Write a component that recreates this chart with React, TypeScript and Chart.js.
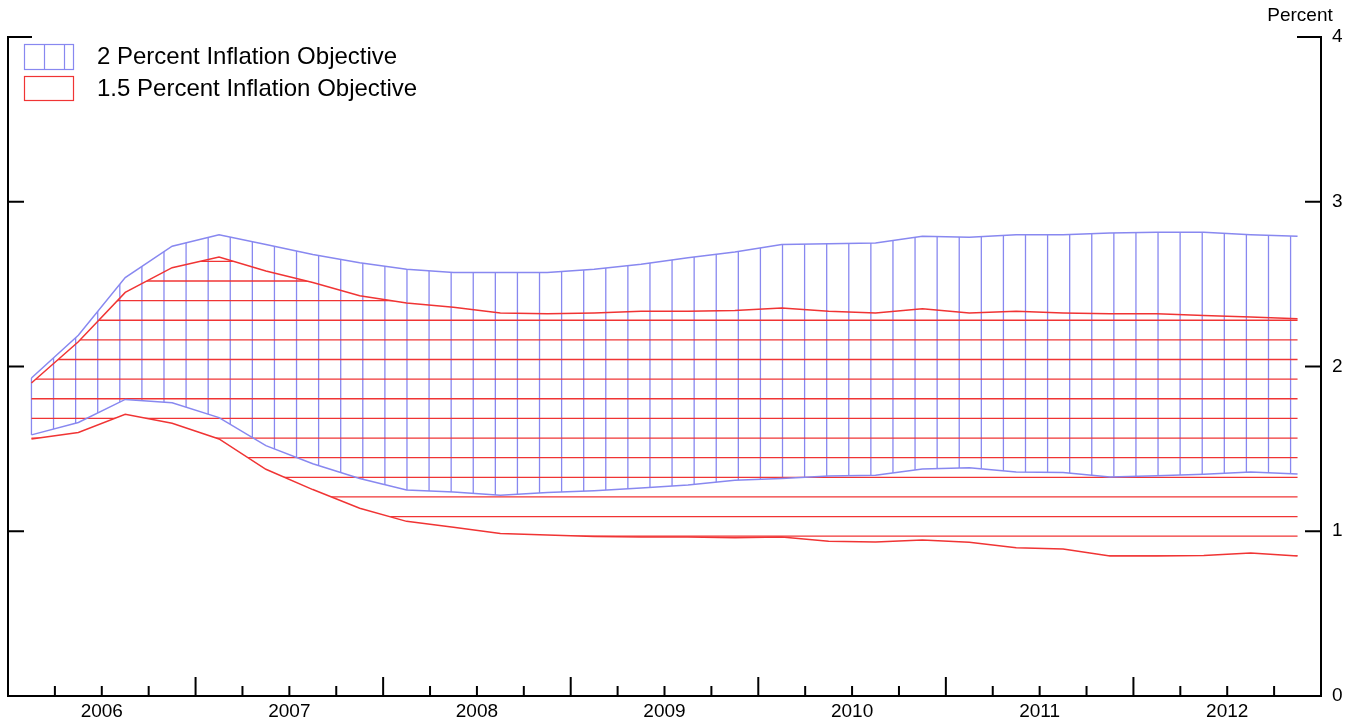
import React, { useEffect, useRef } from 'react';
import { Chart, registerables } from 'chart.js';

Chart.register(...registerables);

// ---- Data ----
const yearLabels = ['2006', '2007', '2008', '2009', '2010', '2011', '2012'];
const quartersPerYear = ['Q1', 'Q2', 'Q3', 'Q4'];
const quarterLabels = yearLabels.flatMap((y) => quartersPerYear.map((q) => `${y}${q}`));

const seriesNames = ['2 Percent Inflation Objective', '1.5 Percent Inflation Objective'];

// 2 percent objective band (upper / lower bound)
const twoPctUpper = [1.93, 2.19, 2.54, 2.73, 2.8, 2.74, 2.68, 2.63, 2.59, 2.57, 2.57, 2.57, 2.59, 2.62, 2.66, 2.695, 2.74, 2.745, 2.75, 2.79, 2.785, 2.8, 2.8, 2.81, 2.815, 2.815, 2.8, 2.79];
const twoPctLower = [1.585, 1.66, 1.8, 1.78, 1.69, 1.52, 1.41, 1.32, 1.25, 1.238, 1.218, 1.235, 1.246, 1.263, 1.28, 1.31, 1.32, 1.335, 1.34, 1.378, 1.386, 1.36, 1.357, 1.33, 1.337, 1.346, 1.36, 1.347];

// 1.5 percent objective band (upper / lower bound)
const onePtFiveUpper = [1.9, 2.15, 2.45, 2.6, 2.665, 2.58, 2.51, 2.43, 2.385, 2.36, 2.325, 2.32, 2.325, 2.335, 2.335, 2.34, 2.355, 2.335, 2.325, 2.35, 2.325, 2.335, 2.325, 2.32, 2.32, 2.31, 2.3, 2.29];
const onePtFiveLower = [1.56, 1.6, 1.71, 1.655, 1.56, 1.376, 1.253, 1.14, 1.06, 1.025, 0.987, 0.977, 0.968, 0.965, 0.965, 0.96, 0.965, 0.94, 0.935, 0.947, 0.933, 0.9, 0.892, 0.85, 0.85, 0.853, 0.868, 0.85];

const yTicks = [0, 1, 2, 3, 4];

// ---- Styles ----
const BLUE = 'rgb(136,136,240)';
const RED = 'rgb(240,52,52)';
const FONT = '"Liberation Sans", Arial, Helvetica, sans-serif';

const toPoints = (arr: number[]) => arr.map((v, i) => ({ x: i, y: v }));

function interpY(points: any[], x: number): number | null {
  for (let j = 0; j < points.length - 1; j++) {
    const a = points[j];
    const b = points[j + 1];
    if (x >= a.x - 0.01 && x <= b.x + 0.01) {
      const t = (x - a.x) / (b.x - a.x);
      return a.y + t * (b.y - a.y);
    }
  }
  return null;
}

const customPlugin = {
  id: 'customDraw',
  beforeDatasetsDraw(chart: any) {
    const ctx = chart.ctx;
    const area = chart.chartArea;
    const yScale = chart.scales.y;
    // Blue band: vertical hatching
    const up = chart.getDatasetMeta(0).data.map((p: any) => ({ x: p.x, y: p.y }));
    const lo = chart.getDatasetMeta(1).data.map((p: any) => ({ x: p.x, y: p.y }));
    ctx.save();
    ctx.strokeStyle = BLUE;
    ctx.lineWidth = 1.3;
    const step = 22.09;
    const lastX = up[up.length - 1].x;
    for (let x = up[0].x; x <= lastX + 0.01; x += step) {
      const y1 = interpY(up, x);
      const y2 = interpY(lo, x);
      if (y1 == null || y2 == null) continue;
      ctx.beginPath();
      ctx.moveTo(x, y1);
      ctx.lineTo(x, y2);
      ctx.stroke();
    }
    ctx.restore();

    // Red band: horizontal hatching (clipped)
    const rup = chart.getDatasetMeta(2).data.map((p: any) => ({ x: p.x, y: p.y }));
    const rlo = chart.getDatasetMeta(3).data.map((p: any) => ({ x: p.x, y: p.y }));
    ctx.save();
    ctx.beginPath();
    ctx.moveTo(rup[0].x, rup[0].y);
    for (let i = 1; i < rup.length; i++) ctx.lineTo(rup[i].x, rup[i].y);
    for (let i = rlo.length - 1; i >= 0; i--) ctx.lineTo(rlo[i].x, rlo[i].y);
    ctx.closePath();
    ctx.clip();
    ctx.strokeStyle = RED;
    ctx.lineWidth = 1.3;
    const hStep = 19.63;
    const anchor = yScale.getPixelForValue(2.519);
    let start = anchor;
    while (start - hStep > area.top) start -= hStep;
    for (let y = start; y <= area.bottom; y += hStep) {
      ctx.beginPath();
      ctx.moveTo(area.left, y);
      ctx.lineTo(area.right, y);
      ctx.stroke();
    }
    ctx.restore();
  },
  afterDraw(chart: any) {
    const ctx = chart.ctx;
    const area = chart.chartArea;
    const xScale = chart.scales.x;
    const yScale = chart.scales.y;
    ctx.save();
    ctx.strokeStyle = '#000';
    ctx.lineWidth = 2;
    ctx.lineCap = 'butt';
    // axis lines
    ctx.beginPath();
    ctx.moveTo(area.left, area.top);
    ctx.lineTo(area.left, area.bottom + 1);
    ctx.moveTo(area.left - 1, area.bottom);
    ctx.lineTo(area.right + 1, area.bottom);
    ctx.moveTo(area.right, area.top);
    ctx.lineTo(area.right, area.bottom + 1);
    ctx.stroke();
    // y ticks (inward, both sides)
    ctx.beginPath();
    yTicks.forEach((v) => {
      const y = yScale.getPixelForValue(v);
      const len = v === yTicks[yTicks.length - 1] ? 24 : 16;
      ctx.moveTo(area.left - 1, y);
      ctx.lineTo(area.left + len, y);
      ctx.moveTo(area.right + 1, y);
      ctx.lineTo(area.right - len, y);
    });
    ctx.stroke();
    // x ticks: quarter boundaries (minor), year boundaries (major)
    ctx.beginPath();
    for (let k = 1; k < quarterLabels.length; k++) {
      const x = xScale.getPixelForValue(k - 0.5);
      const major = k % 4 === 0;
      ctx.moveTo(x, area.bottom);
      ctx.lineTo(x, area.bottom - (major ? 19 : 10));
    }
    ctx.stroke();

    // "Percent" label
    ctx.fillStyle = '#000';
    ctx.font = `19px ${FONT}`;
    ctx.textAlign = 'center';
    ctx.textBaseline = 'middle';
    ctx.fillText('Percent', area.right - 21, 16);

    // Legend
    const bx = area.left + 16.5;
    ctx.lineWidth = 1.2;
    ctx.strokeStyle = BLUE;
    ctx.strokeRect(bx, 44.5, 49, 25);
    ctx.beginPath();
    ctx.moveTo(bx + 20, 44.5);
    ctx.lineTo(bx + 20, 69.5);
    ctx.moveTo(bx + 40, 44.5);
    ctx.lineTo(bx + 40, 69.5);
    ctx.stroke();
    ctx.strokeStyle = RED;
    ctx.strokeRect(bx, 76.5, 49, 24);
    ctx.font = `24px ${FONT}`;
    ctx.textAlign = 'left';
    ctx.fillStyle = '#000';
    ctx.fillText(seriesNames[0], area.left + 89, 57.5);
    ctx.fillText(seriesNames[1], area.left + 89, 89);
    ctx.restore();
  },
};

export default function App() {
  const canvasRef = useRef<HTMLCanvasElement | null>(null);

  useEffect(() => {
    if (!canvasRef.current) return;
    const lineDs = (label: string, data: number[], color: string) => ({
      label,
      data: toPoints(data),
      borderColor: color,
      backgroundColor: color,
      borderWidth: 1.5,
      pointRadius: 0,
      fill: false,
      tension: 0,
    });
    const chart = new Chart(canvasRef.current, {
      type: 'line',
      data: {
        datasets: [
          lineDs(seriesNames[0] + ' upper', twoPctUpper, BLUE),
          lineDs(seriesNames[0] + ' lower', twoPctLower, BLUE),
          lineDs(seriesNames[1] + ' upper', onePtFiveUpper, RED),
          lineDs(seriesNames[1] + ' lower', onePtFiveLower, RED),
        ],
      },
      options: {
        animation: false,
        responsive: true,
        maintainAspectRatio: false,
        layout: { padding: { left: 8, top: 37, right: 0, bottom: 0 } },
        plugins: { legend: { display: false }, tooltip: { enabled: false } },
        scales: {
          x: {
            type: 'linear',
            min: -0.5,
            max: quarterLabels.length - 0.5,
            grid: { display: false, drawTicks: false },
            border: { display: false },
            afterFit: (scale: any) => {
              scale.height = 29;
            },
            afterBuildTicks: (scale: any) => {
              scale.ticks = yearLabels.map((_, i) => ({ value: i * 4 + 1.5 }));
            },
            ticks: {
              autoSkip: false,
              maxRotation: 0,
              padding: 4,
              color: '#000',
              font: { family: FONT, size: 19 },
              callback: (value: any) => yearLabels[Math.round((Number(value) - 1.5) / 4)],
            },
          },
          y: {
            type: 'linear',
            position: 'right',
            min: 0,
            max: 4,
            grid: { display: false, drawTicks: false },
            border: { display: false },
            afterFit: (scale: any) => {
              scale.width = 37;
            },
            afterBuildTicks: (scale: any) => {
              scale.ticks = yTicks.map((v) => ({ value: v }));
            },
            ticks: {
              padding: 11,
              color: '#000',
              font: { family: FONT, size: 19 },
              callback: (value: any) => String(value),
            },
          },
        },
      },
      plugins: [customPlugin],
    });
    return () => chart.destroy();
  }, []);

  return (
    <div style={{ position: 'fixed', left: 0, top: 0, width: 1358, height: 725, background: '#fff' }}>
      <canvas ref={canvasRef} />
    </div>
  );
}
